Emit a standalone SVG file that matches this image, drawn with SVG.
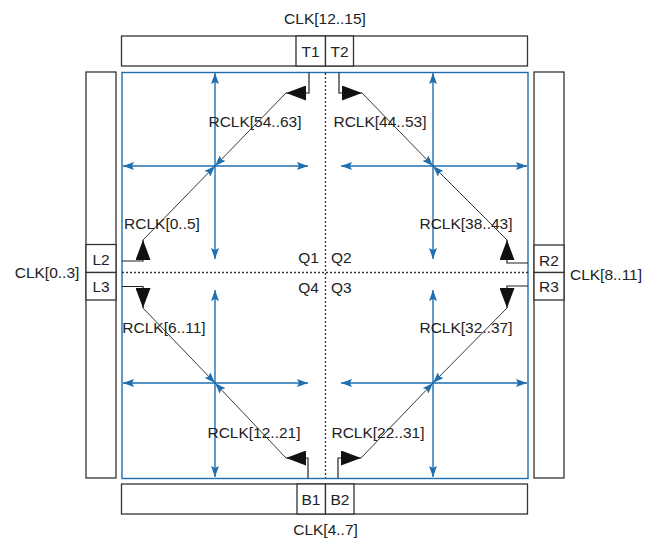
<svg xmlns="http://www.w3.org/2000/svg" width="649" height="540" viewBox="0 0 649 540">
<style>
  .bar{fill:#fff;stroke:#333;stroke-width:1.3}
  .region{fill:none;stroke:#1f6fb0;stroke-width:1.4}
  .dash{fill:none;stroke:#333;stroke-width:1.3;stroke-dasharray:2 2}
  .blue{fill:none;stroke:#1f6fb0;stroke-width:1.4;marker-start:url(#ba);marker-end:url(#ba)}
  .diag{fill:none;stroke:#222;stroke-width:0.9;marker-end:url(#ba)}
  .elbow{fill:none;stroke:#222;stroke-width:1.2;marker-end:url(#bt)}
  text{font-family:"Liberation Sans",Arial,sans-serif;font-size:15.5px;fill:#222}
  .m{text-anchor:middle}
  .e{text-anchor:end}
</style>
<defs>
  <marker id="ba" viewBox="0 0 11 8" refX="11" refY="4" markerWidth="11" markerHeight="8" markerUnits="userSpaceOnUse" orient="auto-start-reverse">
    <path d="M0,0 L11,4 L0,8 L2,4 z" fill="#1f6fb0"/>
  </marker>
  <marker id="bt" viewBox="0 0 20 15" refX="20" refY="7.5" markerWidth="20" markerHeight="15" markerUnits="userSpaceOnUse" orient="auto">
    <path d="M0,0 L20,7.5 L0,15 z" fill="#111"/>
  </marker>
</defs>

<g id="top-bank">
  <rect class="bar" x="121.5" y="36" width="406" height="30"/>
  <rect class="bar" x="296" y="36" width="29.5" height="30"/>
  <rect class="bar" x="325.5" y="36" width="28" height="30"/>
  <text class="m" x="310.5" y="57">T1</text>
  <text class="m" x="339.5" y="57">T2</text>
  <text class="m" x="325" y="24">CLK[12..15]</text>
</g>
<g id="bottom-bank">
  <rect class="bar" x="121.5" y="484" width="406" height="30"/>
  <rect class="bar" x="297" y="484" width="28.5" height="30"/>
  <rect class="bar" x="325.5" y="484" width="28.5" height="30"/>
  <text class="m" x="311" y="505">B1</text>
  <text class="m" x="340" y="505">B2</text>
  <text class="m" x="325.5" y="535">CLK[4..7]</text>
</g>
<g id="left-bank">
  <rect class="bar" x="86" y="72" width="30" height="406"/>
  <rect class="bar" x="86" y="244.5" width="30" height="28"/>
  <rect class="bar" x="86" y="272.5" width="30" height="27.5"/>
  <text class="m" x="101" y="265">L2</text>
  <text class="m" x="101" y="292">L3</text>
  <text class="m" x="47" y="278">CLK[0..3]</text>
</g>
<g id="right-bank">
  <rect class="bar" x="534" y="72" width="30" height="406"/>
  <rect class="bar" x="534" y="245" width="30" height="27.5"/>
  <rect class="bar" x="534" y="272.5" width="30" height="27.5"/>
  <text class="m" x="549" y="266">R2</text>
  <text class="m" x="549" y="292">R3</text>
  <text class="m" x="606" y="280">CLK[8..11]</text>
</g>
<g id="core">
  <rect class="region" x="122" y="72.5" width="406" height="406"/>
  <line class="dash" x1="325.5" y1="73" x2="325.5" y2="478"/>
  <line class="dash" x1="122" y1="272.5" x2="528" y2="272.5"/>
  <text class="e" x="319" y="263">Q1</text>
  <text x="331" y="263">Q2</text>
  <text class="e" x="319" y="293">Q4</text>
  <text x="331" y="293">Q3</text>
</g>

<g id="connectors">
  <!-- Q1 -->
  <line class="blue" x1="215" y1="73" x2="215" y2="259"/>
  <line class="blue" x1="123" y1="166" x2="308" y2="166"/>
  <path class="elbow" d="M309,72.5 V93 H286"/>
  <path class="diag" d="M286,93 L215,166"/>
  <path class="elbow" d="M122,261 H143 V240"/>
  <path class="diag" d="M143,240 L215,166"/>
  <!-- Q2 -->
  <line class="blue" x1="433" y1="73" x2="433" y2="259"/>
  <line class="blue" x1="341" y1="166" x2="527" y2="166"/>
  <path class="elbow" d="M339,72.5 V93 H362"/>
  <path class="diag" d="M362,93 L433,166"/>
  <path class="elbow" d="M528,263 H507 V240"/>
  <path class="diag" d="M507,240 L433,166"/>
  <!-- Q4 -->
  <line class="blue" x1="215" y1="290" x2="215" y2="477"/>
  <line class="blue" x1="123" y1="383" x2="308" y2="383"/>
  <path class="elbow" d="M122,286.5 H143 V308"/>
  <path class="diag" d="M143,308 L215,383"/>
  <path class="elbow" d="M308,478 V458 H286"/>
  <path class="diag" d="M286,458 L215,383"/>
  <!-- Q3 -->
  <line class="blue" x1="433" y1="290" x2="433" y2="477"/>
  <line class="blue" x1="341" y1="383" x2="527" y2="383"/>
  <path class="elbow" d="M528,286 H507 V308"/>
  <path class="diag" d="M507,308 L433,383"/>
  <path class="elbow" d="M338,478 V458 H361"/>
  <path class="diag" d="M361,458 L433,383"/>
</g>

<g id="labels">
  <text class="m" x="255" y="127">RCLK[54..63]</text>
  <text class="m" x="380" y="127">RCLK[44..53]</text>
  <text class="m" x="162" y="229">RCLK[0..5]</text>
  <text class="m" x="466" y="229">RCLK[38..43]</text>
  <text class="m" x="164" y="333">RCLK[6..11]</text>
  <text class="m" x="466" y="333">RCLK[32..37]</text>
  <text class="m" x="254" y="438">RCLK[12..21]</text>
  <text class="m" x="378" y="438">RCLK[22..31]</text>
</g>
</svg>
